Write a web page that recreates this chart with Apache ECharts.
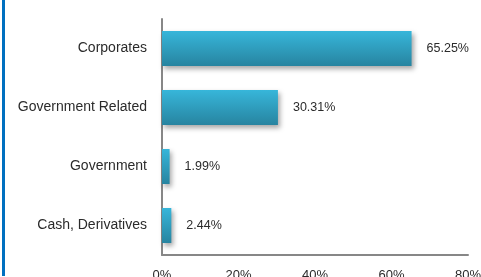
<!DOCTYPE html>
<html>
<head>
<meta charset="utf-8">
<script src="https://cdn.jsdelivr.net/npm/echarts@6/dist/echarts.min.js"></script>
<style>
  html, body { margin: 0; padding: 0; background: #fff; }
  #chart { width: 481px; height: 277px; }
</style>
</head>
<body>
<div id="chart"></div>
<script>
// data
const categories = ['Corporates', 'Government Related', 'Government', 'Cash, Derivatives'];
const shares = [65.25, 30.31, 1.99, 2.44];
const xTicks = { min: 0, max: 80, step: 20 };

const myChart = echarts.init(document.getElementById('chart'));

const textColor = '#2b2b2b';
const axisGrey = '#878787';

const option = {
  animation: false,
  textStyle: { fontFamily: 'Liberation Sans, Arial, sans-serif' },
  grid: { left: 162, right: 13, top: 19, bottom: 22, outerBoundsMode: 'none', containLabel: false },
  // blue rule on the left edge
  graphic: [{
    type: 'rect',
    shape: { x: 2, y: 0, width: 3, height: 276 },
    style: { fill: '#0070C0' },
    silent: true
  }],
  xAxis: {
    type: 'value',
    min: xTicks.min,
    max: xTicks.max,
    interval: xTicks.step,
    axisLine: { show: true, lineStyle: { color: axisGrey, width: 2 } },
    axisTick: { show: false },
    splitLine: { show: false },
    axisLabel: { formatter: '{value}%', color: textColor, fontSize: 13, margin: 14 }
  },
  yAxis: {
    type: 'category',
    inverse: true,
    data: categories,
    axisLine: { show: true, lineStyle: { color: axisGrey, width: 2 } },
    axisTick: { show: false },
    axisLabel: { color: textColor, fontSize: 14, margin: 15 }
  },
  series: [{
    type: 'bar',
    data: shares,
    barWidth: 35,
    itemStyle: {
      color: new echarts.graphic.LinearGradient(0, 0, 0, 1, [
        { offset: 0, color: '#37B6DA' },
        { offset: 1, color: '#2784A0' }
      ]),
      shadowColor: 'rgba(0,0,0,0.35)',
      shadowBlur: 5,
      shadowOffsetX: 2,
      shadowOffsetY: 3
    },
    label: {
      show: true,
      position: 'right',
      distance: 15,
      color: textColor,
      fontSize: 12.5,
      formatter: p => p.value.toFixed(2) + '%'
    }
  }]
};

myChart.setOption(option);
</script>
</body>
</html>
